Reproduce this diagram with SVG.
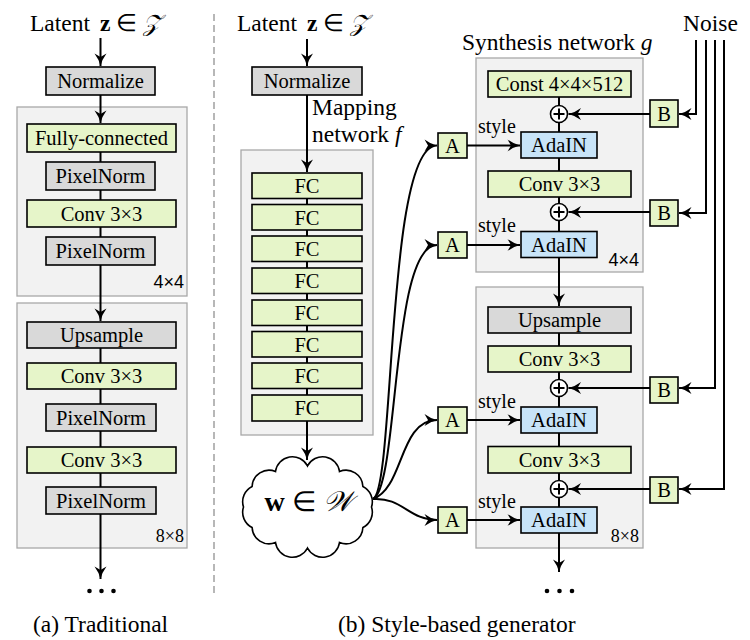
<svg xmlns="http://www.w3.org/2000/svg" width="750" height="640" viewBox="0 0 750 640" font-family="'Liberation Serif', 'Times New Roman', serif">
<defs>
<marker id="ah" viewBox="-13 -6.5 14 13" refX="0" refY="0" markerWidth="14" markerHeight="13" markerUnits="userSpaceOnUse" orient="auto">
<path d="M0,0 Q-6.5,-1.5 -12.5,-6 L-9,0 L-12.5,6 Q-6.5,1.5 0,0 z" fill="#000"/>
</marker>
<style>
text{font-family:'Liberation Serif','Times New Roman',serif;fill:#000}
.cont{fill:#f2f2f2;stroke:#a8a8a8;stroke-width:1.3}
.g{fill:#e6f5c9;stroke:#000;stroke-width:1.6}
.gr{fill:#d9d9d9;stroke:#000;stroke-width:1.6}
.b{fill:#c8e4f8;stroke:#000;stroke-width:1.6}
.t{font-size:20.5px;text-anchor:middle}
.h{font-size:23.5px}
.res{font-size:18px;text-anchor:end}
.ress{font-family:'Liberation Sans',Arial,sans-serif;font-size:18px;text-anchor:end}
.ln{fill:none;stroke:#000;stroke-width:2}
.ar{fill:none;stroke:#000;stroke-width:2;marker-end:url(#ah)}
.plus{fill:#fff;stroke:#000;stroke-width:1.6}
</style>
</defs>
<rect width="750" height="640" fill="#fff"/>

<!-- divider -->
<line x1="214" y1="14" x2="214" y2="595" stroke="#a0a0a0" stroke-width="1.5" stroke-dasharray="7,4"/>

<!-- (a) Traditional -->
<g id="latent-a"><text class="h" x="30" y="31">Latent <tspan font-weight="bold" dx="4">z</tspan> ∈ <tspan font-style="italic">𝒵</tspan></text></g>
<g id="a-normalize"><rect class="gr" x="46" y="67" width="109" height="28"/><text class="t" x="100.5" y="88">Normalize</text></g>
<g id="a-block4"><rect class="cont" x="17" y="107" width="170" height="189"/><text class="ress" x="184" y="288">4×4</text></g>
<g id="a-fc"><rect class="g" x="27" y="124" width="149" height="28"/><text class="t" x="101.5" y="145">Fully-connected</text></g>
<g id="a-pn1"><rect class="gr" x="46" y="162" width="109" height="28"/><text class="t" x="100.5" y="183">PixelNorm</text></g>
<g id="a-conv1"><rect class="g" x="27" y="200" width="149" height="27"/><text class="t" x="101.5" y="220.5">Conv 3×3</text></g>
<g id="a-pn2"><rect class="gr" x="46" y="237" width="109" height="28"/><text class="t" x="100.5" y="258">PixelNorm</text></g>
<g id="a-block8"><rect class="cont" x="17" y="303" width="170" height="245"/><text class="res" x="184" y="542">8×8</text></g>
<g id="a-up"><rect class="gr" x="27" y="322" width="149" height="26"/><text class="t" x="101.5" y="342">Upsample</text></g>
<g id="a-conv2"><rect class="g" x="27" y="363" width="149" height="26"/><text class="t" x="101.5" y="383">Conv 3×3</text></g>
<g id="a-pn3"><rect class="gr" x="46" y="404" width="110" height="27"/><text class="t" x="101" y="424.5">PixelNorm</text></g>
<g id="a-conv3"><rect class="g" x="27" y="447" width="149" height="26"/><text class="t" x="101.5" y="467">Conv 3×3</text></g>
<g id="a-pn4"><rect class="gr" x="46" y="487" width="110" height="27"/><text class="t" x="101" y="507.5">PixelNorm</text></g>
<g id="a-dots" fill="#000"><circle cx="89.5" cy="591" r="2.3"/><circle cx="101.5" cy="591" r="2.3"/><circle cx="113.5" cy="591" r="2.3"/></g>
<g id="cap-a"><text class="h" x="33" y="632">(a) Traditional</text></g>

<!-- (b) mapping network -->
<g id="latent-b"><text class="h" x="237" y="31">Latent <tspan font-weight="bold" dx="4">z</tspan> ∈ <tspan font-style="italic">𝒵</tspan></text></g>
<g id="b-normalize"><rect class="gr" x="252" y="67" width="110" height="28"/><text class="t" x="307" y="88">Normalize</text></g>
<g id="mapping-label"><text class="h" x="312" y="115">Mapping</text><text class="h" x="312" y="142">network <tspan font-style="italic">f</tspan></text></g>
<g id="mapping"><rect class="cont" x="241" y="150" width="132" height="285"/></g>
<g id="fc1"><rect class="g" x="252" y="173" width="110" height="25.5"/><text class="t" x="307" y="193">FC</text></g>
<g id="fc2"><rect class="g" x="252" y="204.5" width="110" height="25.5"/><text class="t" x="307" y="224.5">FC</text></g>
<g id="fc3"><rect class="g" x="252" y="236" width="110" height="25.5"/><text class="t" x="307" y="256">FC</text></g>
<g id="fc4"><rect class="g" x="252" y="268" width="110" height="25.5"/><text class="t" x="307" y="288">FC</text></g>
<g id="fc5"><rect class="g" x="252" y="300" width="110" height="25.5"/><text class="t" x="307" y="320">FC</text></g>
<g id="fc6"><rect class="g" x="252" y="331.5" width="110" height="25.5"/><text class="t" x="307" y="351.5">FC</text></g>
<g id="fc7"><rect class="g" x="252" y="363" width="110" height="25.5"/><text class="t" x="307" y="383">FC</text></g>
<g id="fc8"><rect class="g" x="252" y="395" width="110" height="26"/><text class="t" x="307" y="415">FC</text></g>
<g id="w-cloud">
<path d="M307.5,466 A17,17 0 0 1 339.5,471.5 A17,17 0 0 1 362.9,486.5 A17,17 0 0 1 371.5,507 A17,17 0 0 1 362.9,527.5 A17,17 0 0 1 339.5,542.5 A17,17 0 0 1 307.5,548 A17,17 0 0 1 275.5,542.5 A17,17 0 0 1 252.1,527.5 A17,17 0 0 1 243.5,507 A17,17 0 0 1 252.1,486.5 A17,17 0 0 1 275.5,471.5 A17,17 0 0 1 307.5,466 Z" fill="#fff" stroke="#000" stroke-width="1.6"/>
<text x="308" y="511" font-size="28px" text-anchor="middle"><tspan font-weight="bold">w</tspan> ∈ <tspan font-style="italic">𝒲</tspan></text>
</g>
<g id="cap-b"><text class="h" x="338" y="632">(b) Style-based generator</text></g>

<!-- synthesis network -->
<g id="synth-label"><text class="h" x="462" y="50">Synthesis network <tspan font-style="italic">g</tspan></text></g>
<g id="noise-label"><text class="h" x="683" y="31">Noise</text></g>
<g id="s-block4"><rect class="cont" x="476" y="58" width="167" height="214"/><text class="ress" x="639" y="266">4×4</text></g>
<g id="const"><rect class="g" x="488" y="71" width="143" height="26"/><text class="t" x="559.5" y="91">Const 4×4×512</text></g>
<g id="plus1"><circle class="plus" cx="559" cy="114" r="8.5"/><path class="ln" d="M553.5,114 H564.5 M559,108.5 V119.5" stroke-width="1.4"/></g>
<g id="adain1"><rect class="b" x="521" y="132" width="76" height="26"/><text class="t" x="559" y="152">AdaIN</text></g>
<g id="s-conv1"><rect class="g" x="488" y="171" width="143" height="26"/><text class="t" x="559.5" y="191">Conv 3×3</text></g>
<g id="plus2"><circle class="plus" cx="559" cy="212" r="8.5"/><path class="ln" d="M553.5,212 H564.5 M559,206.5 V217.5" stroke-width="1.4"/></g>
<g id="adain2"><rect class="b" x="521" y="231.5" width="76" height="26"/><text class="t" x="559" y="251.5">AdaIN</text></g>
<g id="s-block8"><rect class="cont" x="476" y="287" width="167" height="261"/><text class="res" x="639" y="542">8×8</text></g>
<g id="s-up"><rect class="gr" x="488" y="307" width="143" height="26"/><text class="t" x="559.5" y="327">Upsample</text></g>
<g id="s-conv2"><rect class="g" x="488" y="346" width="143" height="26"/><text class="t" x="559.5" y="366">Conv 3×3</text></g>
<g id="plus3"><circle class="plus" cx="559" cy="388" r="8.5"/><path class="ln" d="M553.5,388 H564.5 M559,382.5 V393.5" stroke-width="1.4"/></g>
<g id="adain3"><rect class="b" x="521" y="407" width="76" height="26"/><text class="t" x="559" y="427">AdaIN</text></g>
<g id="s-conv3"><rect class="g" x="488" y="446.5" width="143" height="26.5"/><text class="t" x="559.5" y="466.5">Conv 3×3</text></g>
<g id="plus4"><circle class="plus" cx="559" cy="489" r="8.5"/><path class="ln" d="M553.5,489 H564.5 M559,483.5 V494.5" stroke-width="1.4"/></g>
<g id="adain4"><rect class="b" x="521" y="507" width="76" height="26"/><text class="t" x="559" y="527">AdaIN</text></g>
<g id="s-dots" fill="#000"><circle cx="547" cy="591" r="2.3"/><circle cx="559.5" cy="591" r="2.3"/><circle cx="572" cy="591" r="2.3"/></g>

<g id="A1"><rect class="g" x="438" y="133" width="29" height="25"/><text class="t" x="452.5" y="152.5">A</text></g>
<g id="A2"><rect class="g" x="438" y="232" width="29" height="26"/><text class="t" x="452.5" y="252">A</text></g>
<g id="A3"><rect class="g" x="438" y="407" width="29" height="26"/><text class="t" x="452.5" y="427">A</text></g>
<g id="A4"><rect class="g" x="438" y="507" width="29" height="26"/><text class="t" x="452.5" y="527">A</text></g>
<g id="B1"><rect class="g" x="650" y="100" width="28" height="27"/><text class="t" x="664" y="120.5">B</text></g>
<g id="B2"><rect class="g" x="650" y="200" width="28" height="26"/><text class="t" x="664" y="220">B</text></g>
<g id="B3"><rect class="g" x="650" y="377" width="28" height="26"/><text class="t" x="664" y="397">B</text></g>
<g id="B4"><rect class="g" x="650" y="477" width="28" height="26"/><text class="t" x="664" y="497">B</text></g>
<g id="style-labels">
<text x="478" y="133" font-size="20px">style</text>
<text x="478" y="232" font-size="20px">style</text>
<text x="478" y="408" font-size="20px">style</text>
<text x="478" y="508" font-size="20px">style</text>
</g>

<g id="connectors">
<!-- (a) -->
<path class="ar" d="M100.5,38 V66"/>
<path class="ar" d="M100.5,95 V123"/>
<path class="ln" d="M100.5,152 V162 M100.5,190 V200 M100.5,227 V237"/>
<path class="ar" d="M100.5,265 V321"/>
<path class="ln" d="M100.5,348 V363 M100.5,389 V404 M100.5,431 V447 M100.5,473 V487"/>
<path class="ar" d="M100.5,514 V579"/>
<!-- mapping -->
<path class="ar" d="M307,39 V66"/>
<path class="ar" d="M307,95 V172"/>
<path class="ln" d="M307,198.5 V204.5 M307,230 V236 M307,261.5 V268 M307,293.5 V300 M307,325.5 V331.5 M307,357 V363 M307,388.5 V395"/>
<path class="ar" d="M307,421 V460"/>
<!-- w to A -->
<path class="ar" d="M373,499 C395,490 386,145 437,145.5"/>
<path class="ar" d="M373,499 C399,487 391,245 437,245"/>
<path class="ar" d="M373,499 C404,488 399,420 437,420"/>
<path class="ar" d="M373,499 C402,497 409,520 437,520"/>
<!-- A to AdaIN -->
<path class="ar" d="M467,145.5 H520"/>
<path class="ar" d="M467,245 H520"/>
<path class="ar" d="M467,420 H520"/>
<path class="ar" d="M467,520 H520"/>
<!-- synthesis chain -->
<path class="ln" d="M559,97 V105.5 M559,122.5 V132 M559,158 V171 M559,197 V203.5 M559,220.5 V231.5"/>
<path class="ar" d="M559,257.5 V306"/>
<path class="ln" d="M559,333 V346 M559,372 V379.5 M559,396.5 V407 M559,433 V446.5 M559,473 V480.5 M559,497.5 V507"/>
<path class="ar" d="M559,533 V572"/>
<!-- B to plus -->
<path class="ar" d="M650,114 H568.5"/>
<path class="ar" d="M650,212 H568.5"/>
<path class="ar" d="M650,388 H568.5"/>
<path class="ar" d="M650,489 H568.5"/>
<!-- noise -->
<path class="ar" d="M696,40 V114 H679"/>
<path class="ar" d="M706,40 V213 H679"/>
<path class="ar" d="M715,40 V388 H679"/>
<path class="ar" d="M724,40 V489 H679"/>
</g>
</svg>
